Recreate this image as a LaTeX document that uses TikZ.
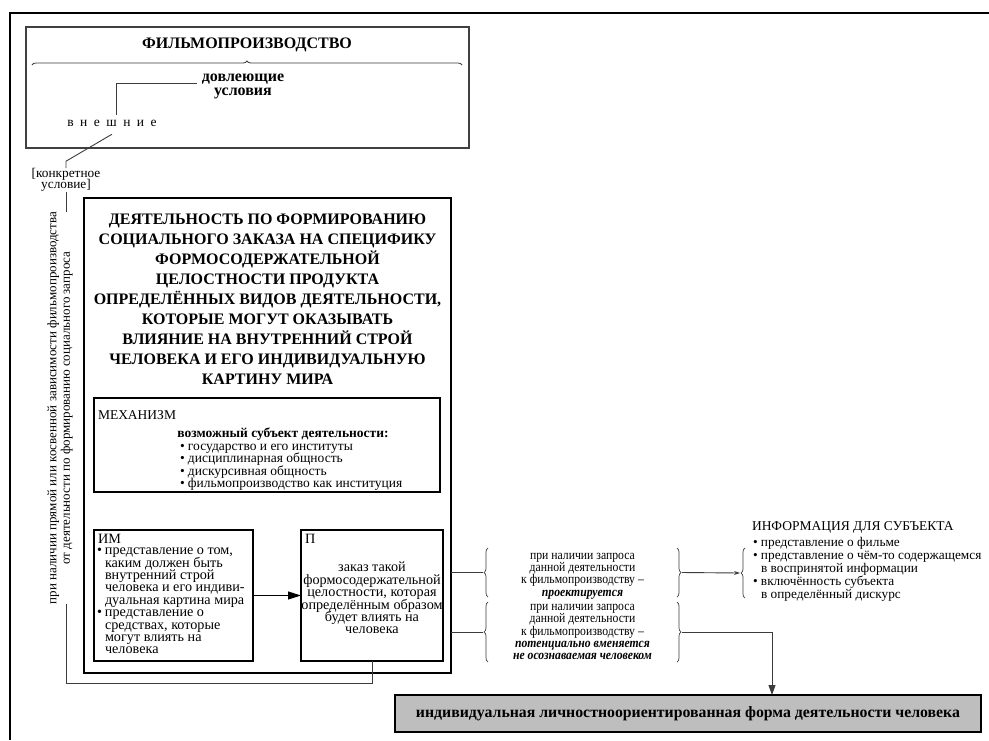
\documentclass[tikz,border=0pt]{standalone}
\usepackage{fontspec}
\setmainfont{Liberation Serif}
\newfontfamily\narrowserif[FakeStretch=0.88]{Liberation Serif}
\usetikzlibrary{decorations.pathreplacing,arrows.meta}
\definecolor{boxgray}{RGB}{190,190,190}
\definecolor{linegray}{RGB}{60,60,60}
\newcommand{\fsz}[2]{\fontsize{#1}{#2}\selectfont\lineskiplimit=-50pt\relax}
\newcommand{\bul}{\makebox[8pt][l]{•}}
\newcommand{\ind}{\hspace*{8pt}}
\newcommand{\bfit}[1]{\textbf{\textit{#1}}}

\begin{document}
\begin{tikzpicture}[x=1pt,y=-1pt,
  every node/.style={inner sep=0pt,outer sep=0pt},
  panel/.style={draw,rectangle,line width=1.2pt},
  link/.style={draw=linegray,line width=0.9pt},
  curly/.style={draw=linegray,line width=0.7pt,decorate,decoration={brace,amplitude=4pt}},
  body/.style={font=\fsz{13.5}{12.4}},
  inner/.style={font=\fsz{14.2}{12.4}},
  small/.style={font=\narrowserif\fsz{13.3}{12.2}},
  headline/.style={font=\bfseries\fsz{16}{20}},
]
\fill[white] (0,0) rectangle (989,740);
\useasboundingbox (0,0) rectangle (989,740);

% outer frame: top and left edges
\draw[line width=1.6pt] (10,740) -- (10,13) -- (989,13);

% ---- film production block ----
\node[panel,draw=black!75,minimum width=443pt,minimum height=121pt] (film) at (247.5,87.5) {};
\node[headline] (filmtitle) at (247,45) {ФИЛЬМОПРОИЗВОДСТВО};
\draw[curly,line width=0.8pt] ([shift={(6,38)}]film.north west) -- ([shift={(-7,38)}]film.north east);
\node[font=\bfseries\fsz{16}{14},align=center] (dovl) at (243,86) {довлеющие\\условия};
\node[font=\fsz{13.5}{14}] (vnesh) at (112,123)
  {в\hspace{6.5pt}н\hspace{6.5pt}е\hspace{6.5pt}ш\hspace{6.5pt}н\hspace{6.5pt}и\hspace{6.5pt}е};
\draw[link] ([shift={(-5,-3)}]dovl.west) -| ([shift={(4,-5)}]vnesh.north);

% ---- concrete condition and the dependence label ----
\node[font=\fsz{13.3}{11.5},align=center] (konkr) at (66,180) {[конкретное\\условие]};
\node[rotate=90,font=\fsz{13}{13.5},align=center] (cond) at (60,408)
  {при наличии прямой или косвенной зависимости фильмопроизводства\\от деятельности по формированию социального запроса};
\draw[link] ([shift={(0,8)}]vnesh.south) -- ([shift={(0,-7)}]konkr.north) -- (konkr.north);

% ---- main activity block ----
\node[panel,line width=1.4pt,minimum width=367pt,minimum height=475pt] (main) at (267.5,435.5) {};
\node[headline,align=center] (maintitle) at (267.5,299) {ДЕЯТЕЛЬНОСТЬ ПО ФОРМИРОВАНИЮ\\
СОЦИАЛЬНОГО ЗАКАЗА НА СПЕЦИФИКУ\\
ФОРМОСОДЕРЖАТЕЛЬНОЙ\\
ЦЕЛОСТНОСТИ ПРОДУКТА\\
ОПРЕДЕЛЁННЫХ ВИДОВ ДЕЯТЕЛЬНОСТИ,\\
КОТОРЫЕ МОГУТ ОКАЗЫВАТЬ\\
ВЛИЯНИЕ НА ВНУТРЕННИЙ СТРОЙ\\
ЧЕЛОВЕКА И ЕГО ИНДИВИДУАЛЬНУЮ\\
КАРТИНУ МИРА};

% mechanism
\node[panel,minimum width=346pt,minimum height=94pt] (mech) at (267,445) {};
\node[body,anchor=west] (mechlab) at ([shift={(4,17)}]mech.north west) {МЕХАНИЗМ};
\node[font=\bfseries\fsz{13.5}{13}] (subj) at (283,434) {возможный субъект деятельности:};
\node[body,anchor=north west,align=left] (subjlist) at (180,444)
  {\bul государство и его институты\\
   \bul дисциплинарная общность\\
   \bul дискурсивная общность\\
   \bul фильмопроизводство как институция};

% image of the human
\node[panel,minimum width=159pt,minimum height=131pt] (im) at (173.5,595.5) {};
\node[inner,anchor=west] (imlab) at ([shift={(4,9)}]im.north west) {ИМ};
\node[inner,anchor=north west,align=left] (imlist) at ([shift={(3,18)}]im.north west)
  {\bul представление о том,\\
   \ind каким должен быть\\
   \ind внутренний строй\\
   \ind человека и его индиви-\\
   \ind дуальная картина мира\\
   \bul представление о\\
   \ind средствах, которые\\
   \ind могут влиять на\\
   \ind человека};

% project
\node[panel,minimum width=142pt,minimum height=131pt] (pbox) at (372,595.5) {};
\node[inner,anchor=west] (plab) at ([shift={(4,9)}]pbox.north west) {П};
\node[inner,align=center] (ptext) at (372,598)
  {заказ такой\\формосодержательной\\целостности, которая\\определённым образом\\будет влиять на\\человека};
\draw[link,draw=black,-{Triangle[length=13pt,width=8pt]}] (im.east) -- (pbox.west);

% ---- request conditions ----
\node[minimum width=189pt,minimum height=49pt] (req1) at (582.5,572.5) {};
\node[small,align=center] (req1txt) at (582.5,576)
  {при наличии запроса\\данной деятельности\\к фильмопроизводству –\\\bfit{проектируется}};
\node[minimum width=189pt,minimum height=60pt] (req2) at (582.5,632) {};
\node[small,align=center] (req2txt) at (582.5,632)
  {при наличии запроса\\данной деятельности\\к фильмопроизводству –\\\bfit{потенциально вменяется}\\\bfit{не осознаваемая человеком}};
\draw[curly] (req1.south west) -- (req1.north west);
\draw[curly] (req1.north east) -- (req1.south east);
\draw[curly] (req2.south west) -- (req2.north west);
\draw[curly] (req2.north east) -- (req2.south east);
\draw[link] (main.east |- req1.west) -- ([shift={(-5,0)}]req1.west);
\draw[link] (main.east |- req2.west) -- ([shift={(-5,0)}]req2.west);

% ---- information for the subject ----
\node[body,anchor=west] (infohead) at (752,527) {ИНФОРМАЦИЯ ДЛЯ СУБЪЕКТА};
\node[font=\fsz{13.3}{12.9},anchor=north west,align=left] (infolist) at (753,537.5)
  {\bul представление о фильме\\
   \bul представление о чём-то содержащемся\\
   \ind в воспринятой информации\\
   \bul включённость субъекта\\
   \ind в определённый дискурс};
\node[minimum width=0pt,minimum height=50pt] (infobr) at (745,573) {};
\draw[curly] (infobr.south) -- (infobr.north);
\draw[link,-{Stealth[length=6pt,width=4pt]}] ([shift={(5,0)}]req1.east) -- ([shift={(-5,0)}]infobr.west);

% ---- resulting form of activity ----
\node[panel,fill=boxgray,minimum width=586pt,minimum height=37pt,font=\bfseries\fsz{15.8}{16}] (result) at (688,713.5)
  {индивидуальная личностноориентированная форма деятельности человека};
\draw[link,-{Triangle[length=10pt,width=7pt]}] ([shift={(5,0)}]req2.east) -| ([shift={(84,0)}]result.north);

% ---- dependence line around the main block ----
\coordinate (loopcorner) at (67,683);
\draw[link] (konkr.south) -- (konkr.south |- cond.east);
\draw[link] (konkr.south |- cond.west) -- (konkr.south |- loopcorner) -| (pbox.south);
\end{tikzpicture}
\end{document}
